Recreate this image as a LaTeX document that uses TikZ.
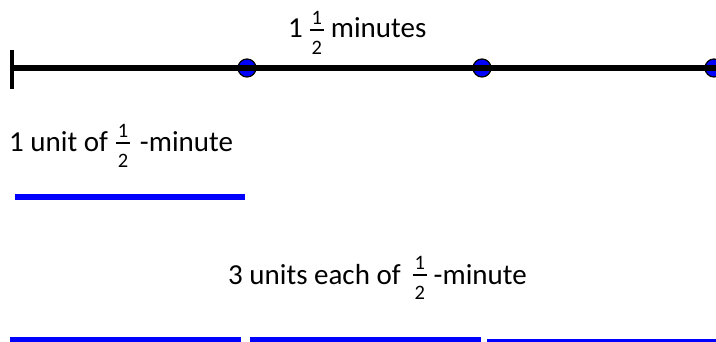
\documentclass[tikz,border=0pt]{standalone}
\usepackage{fontspec}
\setmainfont{Carlito}
\newcommand\fracfs{\fontsize{20.5}{20.5}\selectfont}
\newcommand\halffrac[1]{\raisebox{#1}{\vbox{\offinterlineskip
  \hbox to 14pt{\hss\fracfs 1\hss}\kern 4pt
  \hbox{\rule{14pt}{2pt}}\kern 11pt
  \hbox to 14pt{\hss\fracfs 2\hss}}}}
\tikzset{
  lbl/.style={inner sep=0pt, anchor=base west, font=\fontsize{29}{32}\selectfont},
  dot/.style={circle, fill=blue, draw=black, line width=1.2pt, minimum size=18pt, inner sep=0pt},
  bar/.style={draw=blue, line width=6pt},
  thinbar/.style={draw=blue, line width=3.5pt},
  axis/.style={draw=black, line width=6pt}
}
\begin{document}
\begin{tikzpicture}[x=1pt,y=-1pt]
\useasboundingbox (0,0) rectangle (716,342);
\begin{scope}
\clip (0,0) rectangle (716,342);
% dots
\node[dot] (d1) at (247,68) {};
\node[dot] (d2) at (482,68) {};
\node[dot] (d3) at (714,68) {};
% axis line and tick
\coordinate (a0) at (12,68);
\coordinate (a1) at (716,68);
\draw[axis] (a0) -- (a1);
\coordinate (t0) at (12,50);
\coordinate (t1) at (12,89);
\draw[draw=black, line width=4pt] (t0) -- (t1);
% top label
\node[lbl] (top) at (288,38) {1\hspace{7pt}\halffrac{-17pt}\hspace{7pt}minutes};
% single unit
\node[lbl] (one) at (9,152) {1 unit of\hspace{8pt}\halffrac{-16pt}\hspace{10pt}-minute};
\coordinate (u0) at (15,197);
\coordinate (u1) at (245,197);
\draw[bar] (u0) -- (u1);
% three units
\node[lbl] (three) at (228,284) {3 units each of\hspace{12pt}\halffrac{-16pt}\hspace{7pt}-minute};
\coordinate (b0) at (10,340);
\coordinate (b1) at (241,340);
\coordinate (b2) at (250,340);
\coordinate (b3) at (481,340);
\coordinate (b4) at (487,341);
\coordinate (b5) at (716,341);
\draw[bar] (b0) -- (b1);
\draw[bar] (b2) -- (b3);
\draw[thinbar] (b4) -- (b5);
\end{scope}
\end{tikzpicture}
\end{document}
